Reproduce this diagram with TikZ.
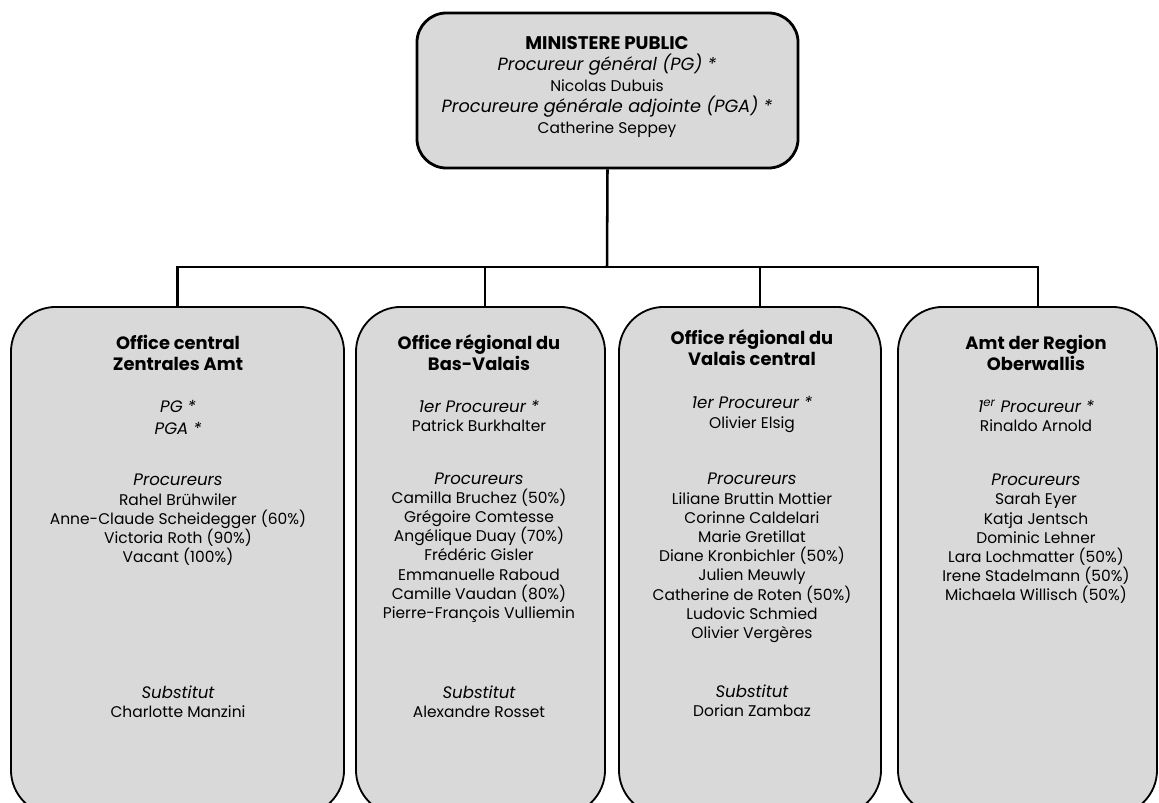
\documentclass[tikz,border=0pt]{standalone}
\usepackage{fontspec}
\setmainfont{Poppins}
\usetikzlibrary{calc,positioning}
\definecolor{boxgray}{RGB}{217,217,217}
\tikzset{
  head/.style={draw, fill=boxgray, line width=2pt, rounded corners=21pt, minimum width=9.525cm, minimum height=3.875cm},
  office/.style={draw, fill=boxgray, line width=1.3pt, rounded corners=32pt, minimum height=12.7cm},
  link/.style={line width=1.8pt},
  txt/.style={align=center, inner sep=0pt, font=\fontsize{11}{13.66}\selectfont},
  ttl/.style={align=center, inner sep=0pt, font=\bfseries\fontsize{12.7}{14.9}\selectfont},
}
\newcommand{\role}[1]{{\itshape\fontsize{11.8}{13.66}\selectfont #1}}
\newcommand{\toprole}[1]{{\itshape\fontsize{12.6}{14.9}\selectfont #1}}
\begin{document}
\begin{tikzpicture}[x=0.025cm,y=-0.025cm]
\path[use as bounding box] (0,0) rectangle (1159,803);
\clip (0,0) rectangle (1159,803);

% boxes
\node[head] (mp) at (607.5,90.5) {};
\node[office, minimum width=8.325cm] (oc) at (177.5,561) {};
\node[office, minimum width=6.225cm] (ob) at (480.5,561) {};
\node[office, minimum width=6.55cm] (ov) at (750,561) {};
\node[office, minimum width=6.475cm] (ow) at (1027.5,561) {};

% connectors
\coordinate (bus) at (607,267);
\coordinate (ob in) at ($(ob.north)+(4.5,0)$);
\coordinate (ov in) at ($(ov.north)+(10,0)$);
\coordinate (ow in) at ($(ow.north)+(10.5,0)$);
\draw[link] (mp.south) -- (bus);
\draw[link] (oc.north) |- (bus) -| (ow in);
\draw[link] (ob in) -- (ob in |- bus);
\draw[link] (ov in) -- (ov in |- bus);

% ministere public
\node[txt, font=\fontsize{11}{14.9}\selectfont] (mp-t) at (607,87) {{\bfseries\fontsize{13}{14.9}\selectfont MINISTERE PUBLIC}\\
  \toprole{Procureur général (PG) *}\\ Nicolas Dubuis\\
  \toprole{Procureure générale adjointe (PGA) *}\\ Catherine Seppey};

% office central
\node[ttl] (oc-t) at (178,352.5) {Office central\\Zentrales Amt};
\node[txt, font=\fontsize{11.8}{15.6}\selectfont\itshape] (oc-l) at (178,417) {PG *\\PGA *};
\node[txt] (oc-p) at (178,520) {\role{Procureurs}\\Rahel Brühwiler\\Anne-Claude Scheidegger (60\%)\\Victoria Roth (90\%)\\Vacant (100\%)};
\node[txt] (oc-s) at (178,701.5) {\role{Substitut}\\Charlotte Manzini};

% bas-valais
\node[ttl] (ob-t) at (479,352.5) {Office régional du\\Bas-Valais};
\node[txt] (ob-l) at (479,416) {\role{1er Procureur *}\\Patrick Burkhalter};
\node[txt] (ob-p) at (479,547.5) {\role{Procureurs}\\Camilla Bruchez (50\%)\\Grégoire Comtesse\\Angélique Duay (70\%)\\Frédéric Gisler\\Emmanuelle Raboud\\Camille Vaudan (80\%)\\Pierre-François Vulliemin};
\node[txt] (ob-s) at (479,701.5) {\role{Substitut}\\Alexandre Rosset};

% valais central
\node[ttl] (ov-t) at (752,347.5) {Office régional du\\Valais central};
\node[txt] (ov-l) at (752,414.5) {\role{1er Procureur *}\\Olivier Elsig};
\node[txt] (ov-p) at (752,558) {\role{Procureurs}\\Liliane Bruttin Mottier\\Corinne Caldelari\\Marie Gretillat\\Diane Kronbichler (50\%)\\Julien Meuwly\\Catherine de Roten (50\%)\\Ludovic Schmied\\Olivier Vergères};
\node[txt] (ov-s) at (752,700.5) {\role{Substitut}\\Dorian Zambaz};

% oberwallis
\node[ttl] (ow-t) at (1036,352.5) {Amt der Region\\Oberwallis};
\node[txt] (ow-l) at (1036,416) {\role{1\textsuperscript{er} Procureur *}\\Rinaldo Arnold};
\node[txt] (ow-p) at (1036,539) {\role{Procureurs}\\Sarah Eyer\\Katja Jentsch\\Dominic Lehner\\Lara Lochmatter (50\%)\\Irene Stadelmann (50\%)\\Michaela Willisch (50\%)};
\end{tikzpicture}
\end{document}
